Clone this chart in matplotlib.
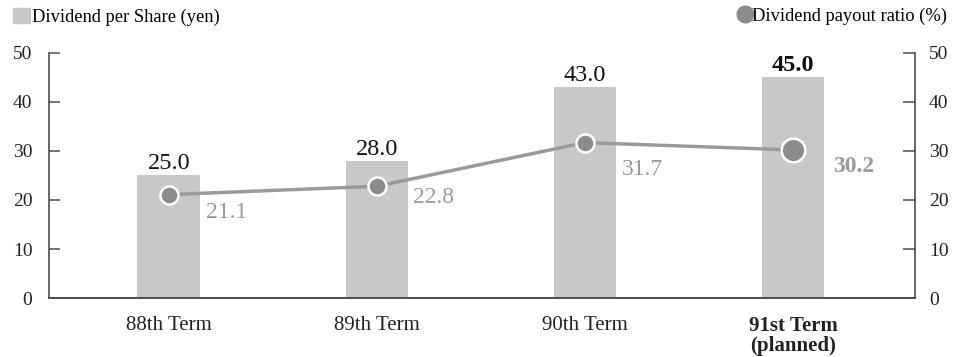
import matplotlib.pyplot as plt
from matplotlib.patches import Patch
from matplotlib.lines import Line2D

plt.rcParams['font.family'] = ['Liberation Serif', 'DejaVu Serif']

terms = ["88th Term", "89th Term", "90th Term", "91st Term\n(planned)"]
dividend = [25.0, 28.0, 43.0, 45.0]
payout = [21.1, 22.8, 31.7, 30.2]
yticks = [0, 10, 20, 30, 40, 50]

# pixel offsets of the payout labels from their points
label_dx = [37, 36, 37, 40]
label_dy = [-18, -11, -27, -17]

bar_color = "#c8c8c9"
line_color = "#9a9a9a"
dot_color = "#8c8c8e"
spine_color = "#4d4d4d"

fig = plt.figure(figsize=(9.54, 3.57), dpi=100)
ax = fig.add_axes([0.0514, 0.165, 0.9076, 0.687])
ax2 = ax.twinx()

x = list(range(len(terms)))
ax.bar(x, dividend, width=0.30, color=bar_color, zorder=1)
ax.set_xlim(-0.575, 3.585)
ax.set_ylim(0, 50)
ax2.set_ylim(0, 50)

# bar value labels
for i, v in enumerate(dividend):
    last = i == len(dividend) - 1
    ax.annotate(f"{v:.1f}", (i, v), xytext=(0, 1), textcoords="offset pixels",
                ha="center", va="bottom", fontsize=17.5, color="#111111",
                fontweight="bold" if last else "normal")

# payout ratio line
ax2.plot(x, payout, color=line_color, lw=2.5, zorder=2)
for i, v in enumerate(payout):
    last = i == len(payout) - 1
    ax2.plot(i, v, "o", ms=17 if last else 13, mfc=dot_color, mec="white",
             mew=1.8, zorder=3)
    ax2.annotate(f"{v:.1f}", (i, v), xytext=(label_dx[i], label_dy[i]),
                 textcoords="offset pixels", ha="left", va="center",
                 fontsize=17, color=line_color,
                 fontweight="bold" if last else "normal")

for a in (ax, ax2):
    a.spines["top"].set_visible(False)
    a.set_yticks(yticks)
    for s in a.spines.values():
        s.set_color(spine_color)
        s.set_linewidth(1.2)

ax.spines["right"].set_visible(False)
ax2.spines["left"].set_visible(False)
ax.tick_params(axis="y", direction="in", length=8, width=1.1, color=spine_color,
               labelsize=14, pad=12, labelcolor="#222222")
ax2.tick_params(axis="y", direction="in", length=9, width=1.1, color=spine_color,
                labelsize=14, pad=10, labelcolor="#222222")
ax.set_xticks(x)
ax.set_xticklabels(terms, fontsize=15, color="#222222", va="top",
                   linespacing=1.0)
ax.tick_params(axis="x", length=0, pad=13)
ax.get_xticklabels()[-1].set_fontweight("bold")

ax.set_zorder(ax2.get_zorder() - 1)
ax2.patch.set_visible(False)
ax.patch.set_visible(True)

# legends
fig.legend(handles=[Patch(color=bar_color, label="Dividend per Share (yen)")],
           loc="upper left", bbox_to_anchor=(0.0, 1.015), frameon=False,
           handlelength=0.9, handleheight=0.9, handletextpad=0.12,
           fontsize=13.3, borderaxespad=0.3)
fig.legend(handles=[Line2D([], [], ls="none", marker="o", ms=12,
                           mfc=dot_color, mec=dot_color,
                           label="Dividend payout ratio (%)")],
           loc="upper right", bbox_to_anchor=(1.006, 1.015), frameon=False,
           handlelength=0.7, handletextpad=0.0, fontsize=13.3,
           borderaxespad=0.3)

fig.savefig("out.png", dpi=100)
